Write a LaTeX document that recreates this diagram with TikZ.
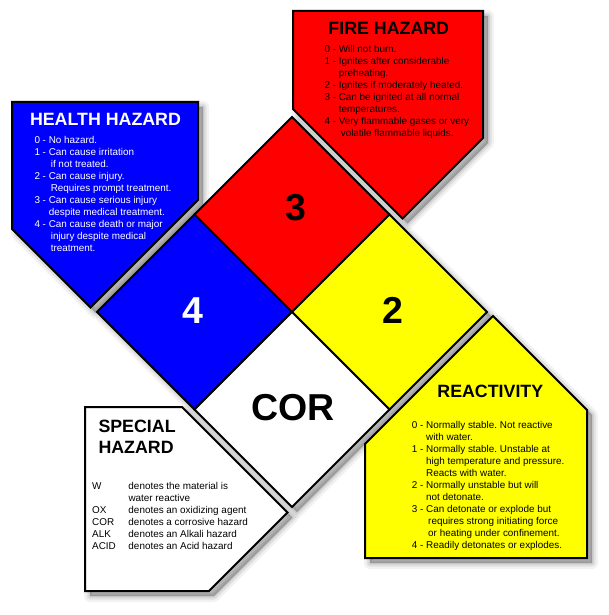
\documentclass[tikz,border=0pt]{standalone}
\usepackage{fontspec}
\setmainfont{Liberation Sans}
\frenchspacing

\definecolor{firered}{RGB}{255,0,0}
\definecolor{healthblue}{RGB}{0,0,255}
\definecolor{reactyellow}{RGB}{255,255,0}

\tikzset{
  softshadow/.style={
    preaction={fill=none, draw=black, draw opacity=0.05, line width=12pt, line join=round,
               transform canvas={shift={(5pt,-5pt)}}},
    preaction={fill=none, draw=black, draw opacity=0.07, line width=7pt, line join=round,
               transform canvas={shift={(5pt,-5pt)}}},
    preaction={fill=black, fill opacity=0.25, draw=black, draw opacity=0.08, line width=3pt,
               line join=round, transform canvas={shift={(5pt,-5pt)}}}},
  panel/.style={draw=black, line width=2pt, line join=miter, softshadow},
  square/.style={draw=black, line width=1.8pt, line join=miter},
  paneltitle/.style={font=\fontsize{17.8}{21}\selectfont\bfseries, inner sep=0pt},
  paneltext/.style={font=\fontsize{9.9}{12}\selectfont, inner sep=0pt, anchor=base west},
  rating/.style={font=\fontsize{37.5}{40}\selectfont\bfseries, inner sep=0pt, anchor=base}
}

\begin{document}
\begin{tikzpicture}[x=1pt, y=-1pt]
  % Page (pixel coordinates, y pointing down)
  \fill[white] (0,0) rectangle (609,615);
  \useasboundingbox (0,0) rectangle (609,615);

  % Corners of the big diamond
  \coordinate (top) at (292,117);
  \coordinate (left) at (97,312);
  \coordinate (right) at (487,312);
  \coordinate (bottom) at (292,507);
  \coordinate (mid) at (292,312);
  \coordinate (ul) at (194.5,214.5);
  \coordinate (ur) at (389.5,214.5);
  \coordinate (ll) at (194.5,409.5);
  \coordinate (lr) at (389.5,409.5);

  % Shadow of the diamond
  \path[softshadow] (top) -- (right) -- (bottom) -- (left) -- cycle;

  % Fire hazard panel
  \draw[panel, fill=firered] (293,11) -- (483,11) -- (483,138) -- (402.5,218.5) -- (293,109) -- cycle;
  \node[paneltitle, anchor=base] (fire_title) at (388.8,34.3) {FIRE HAZARD};
  \node[paneltext] (fire_text) at (324.3,52.3) {\begin{tabular}[t]{@{}l@{ }l@{}}
    0 - & Will not burn.\\
    1 - & Ignites after considerable\\
        & preheating.\\
    2 - & Ignites if moderately heated.\\
    3 - & Can be ignited at all normal\\
        & temperatures.\\
    4 - & Very flammable gases or very\\
        & \hspace{2pt}volatile flammable liquids.
  \end{tabular}};

  % Health hazard panel
  \draw[panel, fill=healthblue] (12,102) -- (198,102) -- (198,200) -- (90.5,307.5) -- (12,229) -- cycle;
  \node[paneltitle, anchor=base, white] (health_title) at (105.5,125) {HEALTH HAZARD};
  \node[paneltext, white] (health_text) at (34.3,143.5) {\begin{tabular}[t]{@{}l@{ }l@{}}
    0 - & No hazard.\\
    1 - & Can cause irritation\\
        & \hspace{2pt}if not treated.\\
    2 - & Can cause injury.\\
        & \hspace{2pt}Requires prompt treatment.\\
    3 - & Can cause serious injury\\
        & despite medical treatment.\\
    4 - & Can cause death or major\\
        & \hspace{2pt}injury despite medical\\
        & \hspace{2pt}treatment.
  \end{tabular}};

  % Reactivity panel
  \draw[panel, fill=reactyellow] (365,558) -- (365,444) -- (493,316) -- (587,410) -- (587,558) -- cycle;
  \node[paneltitle, anchor=base] (react_title) at (490.3,397.3) {REACTIVITY};
  \node[paneltext] (react_text) at (411.7,428.2) {\begin{tabular}[t]{@{}l@{ }l@{}}
    0 - & Normally stable. Not reactive\\
        & with water.\\
    1 - & Normally stable. Unstable at\\
        & high temperature and pressure.\\
        & Reacts with water.\\
    2 - & Normally unstable but will\\
        & not detonate.\\
    3 - & Can detonate or explode but\\
        & \hspace{2pt}requires strong initiating force\\
        & \hspace{2pt}or heating under confinement.\\
    4 - & Readily detonates or explodes.
  \end{tabular}};

  % Special hazard panel
  \draw[panel, fill=white] (85,407) -- (182,407) -- (287.5,512.5) -- (209,591) -- (85,591) -- cycle;
  \node[paneltitle, anchor=base west] (special_title) at (98.3,432.3) {SPECIAL};
  \node[paneltitle, anchor=base west] (special_title2) at (98.3,453.3) {HAZARD};
  \node[paneltext] (special_text) at (92,489.5) {\begin{tabular}[t]{@{}p{36.3pt}@{}l@{}}
    W    & denotes the material is\\
         & water reactive\\
    OX   & denotes an oxidizing agent\\
    COR  & denotes a corrosive hazard\\
    ALK  & denotes an Alkali hazard\\
    ACID & denotes an Acid hazard
  \end{tabular}};

  % The four squares of the diamond
  \draw[square, fill=firered] (top) -- (ur) -- (mid) -- (ul) -- cycle;
  \draw[square, fill=healthblue] (ul) -- (mid) -- (ll) -- (left) -- cycle;
  \draw[square, fill=reactyellow] (ur) -- (right) -- (lr) -- (mid) -- cycle;
  \draw[square, fill=white] (mid) -- (lr) -- (bottom) -- (ll) -- cycle;

  % Ratings
  \node[rating] (fire_rating) at (295.8,220.3) {3};
  \node[rating, white] (health_rating) at (192.7,323.3) {4};
  \node[rating] (react_rating) at (392.7,323.3) {2};
  \node[rating] (special_rating) at (293,420) {COR};
\end{tikzpicture}
\end{document}
